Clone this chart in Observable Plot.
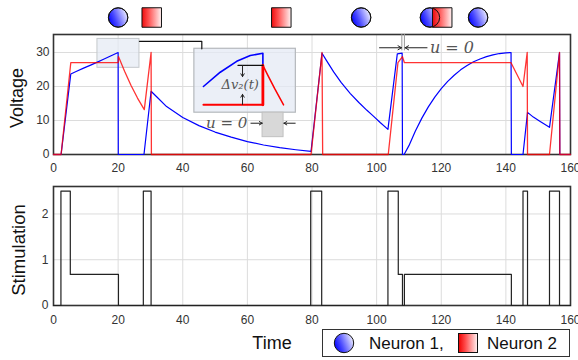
<!DOCTYPE html>
<html><head><meta charset="utf-8">
<script src="https://cdn.jsdelivr.net/npm/d3@7"></script>
<script src="https://cdn.jsdelivr.net/npm/@observablehq/plot@0.6"></script>
<style>
body{margin:0;background:#fff;font-family:"Liberation Sans",Arial,sans-serif;}
#wrap{position:relative;width:578px;height:360px;overflow:hidden;}
#wrap svg{display:block;}
.lab{position:absolute;font-size:18px;color:#111;white-space:nowrap;line-height:1;}
.rot{transform:translate(-50%,-50%) rotate(-90deg);}
.ctr{transform:translate(-50%,-50%);}
#legend{position:absolute;left:322px;top:329px;width:248px;height:28px;box-sizing:border-box;border:1.5px solid #333;background:#fff;}
#legend .it{position:absolute;top:50%;transform:translateY(-50%);font-size:17px;color:#111;white-space:nowrap;line-height:1;}
#legend svg{position:absolute;top:50%;transform:translateY(-50%);}
</style></head><body>
<svg width="0" height="0" style="position:absolute"><defs>
<linearGradient id="gBlue" x1="0" y1="0.7" x2="1" y2="0.3"><stop offset="0" stop-color="#0000ff"/><stop offset="0.35" stop-color="#4a4aff"/><stop offset="1" stop-color="#f2f2ff"/></linearGradient>
<linearGradient id="gRed" x1="0" y1="0" x2="1" y2="0"><stop offset="0" stop-color="#ee0000"/><stop offset="0.35" stop-color="#ff4a4a"/><stop offset="1" stop-color="#fff2f2"/></linearGradient>
</defs></svg>
<div id="wrap">
  <div id="top"></div>
  <div id="bot"></div>
  <div class="lab rot" style="left:17px;top:98px;">Voltage</div>
  <div class="lab rot" style="left:19px;top:250px;font-size:18.5px;">Stimulation</div>
  <div class="lab ctr" style="left:272px;top:343px;">Time</div>
  <div id="legend">
    <svg width="22" height="22" style="left:10px"><circle cx="11" cy="11" r="9.7" fill="url(#gBlue)" stroke="#111" stroke-width="1"/></svg>
    <div class="it" style="left:46px">Neuron 1,</div>
    <svg width="22" height="22" style="left:134px"><rect x="1.5" y="1.5" width="19" height="19" fill="url(#gRed)" stroke="#111" stroke-width="1"/></svg>
    <div class="it" style="left:164px">Neuron 2</div>
  </div>
</div>
<script>
// ---- data ----
const xTicks = [0, 20, 40, 60, 80, 100, 120, 140, 160];
const vTicks = [0, 10, 20, 30];
const sTicks = [0, 1, 2];

// Neuron 1 voltage (time, voltage)
const neuron1 = [
  [0,0],[2.35,0],[5.35,23.7],[7,24.4],[9.3,25.4],[11.5,26.3],[13.4,27.1],[15.5,28.0],[17.5,28.9],[20,30],[20.05,0],
  [28,0],[30.2,18.6],[32,16.9],[35,14.1],[40,10.9],[45,8.5],[50,6.6],[55,5.1],[60,3.8],[65,2.8],[70,2.0],[75,1.4],[79.7,0.9],
  [83.1,29.8],[84.5,27.6],[86.7,24.3],[89,21.2],[91.8,18.0],[94.5,15.3],[97,13.0],[99,11.3],[101.1,9.4],[103.5,7.4],
  [106.4,29.6],[107.9,29.8],[108,0],[108.5,0],[110,2.6],[112,6.9],[114,10.7],[116,14.0],[118,16.9],[120,19.4],[122,21.5],
  [124,23.3],[126,24.9],[128,26.2],[130,27.3],[132,28.1],[134,28.8],[136,29.3],[138,29.7],[140,29.9],[141.6,30],[141.7,0],
  [145.3,0],[146.7,12.4],[148.5,11.0],[150.5,9.8],[153.5,8.0],[156.6,30],[156.7,0],[160,0]
];
// Neuron 2 voltage
const neuron2 = [
  [0,0],[2.35,0],[5.35,27],[20,27],[20.1,28.8],[22,24.5],[24,20.3],[26,16.6],[28.1,13.2],[30.2,30],[30.3,0],
  [79.7,0],[83.1,30],[83.3,0],[103.6,0],[106.6,27],[108,28.8],[108.6,27],[141.6,27],[145.3,20],[146.6,30],[146.7,0],
  [153.5,0],[156.6,30],[156.7,0],[160,0]
];
// Stimulation (time, value), step-after
const stimulation = [
  [0,0],[2.3,2.5],[5.2,0.68],[20.1,0],[27.8,2.5],[30.2,0],[79.6,2.5],[83,0],[103.5,2.5],[106.7,0.68],[108,0],
  [108.6,0.68],[141.7,0],[145.3,2.5],[146.7,0],[153.5,2.5],[156.6,0],[160,0]
];
// event markers above the voltage panel
const circleTimes = [20, 95.2, 116.5, 131.4];
const squareTimes = [30.4, 70.5, 120.3];
const markerLevel = [40.3];

// annotations (time, voltage units)
const highlightBox = [{x1:13.6, x2:26.6, y1:25.5, y2:34.0}];
const insetBox = [{x1:43.6, x2:75.0, y1:12.3, y2:31.1}];
const connector = [[26.6,33.3],[45.9,33.3],[45.9,31.1]];
const insetBlue = [[46.4,20.0],[51.6,24.2],[56.7,27.4],[60.9,29.1],[64.8,29.8],[64.8,26.2]];
const insetRedBase = [[46.4,14.6],[64.8,14.6]];
const insetRedJump = [[64.8,14.6],[64.8,26.2]];
const insetRedDecay = [[64.8,26.2],[66.5,23.0],[68.5,19.3],[71.2,14.6]];
const insetTopLine = [[57.1,26.2],[64.8,26.2]];
const insetArrows = [{x1:58.5,y1:26.2,x2:58.5,y2:22.9},{x1:58.5,y1:14.7,x2:58.5,y2:17.7}];
const insetLabel = [{x:57.8, y:20.4, t:"Δv₂(t)"}];
const uBox = [{x1:64.7, x2:71.2, y1:5.1, y2:12.3}];
const uBoxArrows = [{x1:61.1,y1:9.2,x2:64.6,y2:9.2},{x1:74.8,y1:9.2,x2:71.3,y2:9.2}];
const uBoxLabel = [{x:53.6, y:9.2, t:"u = 0"}];
const uRules = [107.8, 108.6];
const uRuleSpan = {y1:30.5, y2:35.3};
const uArrows = [{x1:100.9,y1:31.4,x2:107.7,y2:31.4},{x1:115.6,y1:31.4,x2:108.8,y2:31.4}];
const uLabel = [{x:123.3, y:31.4, t:"u = 0"}];

const font = "Liberation Sans, Arial, sans-serif";
const serif = "DejaVu Serif, Liberation Serif, serif";

const topPlot = Plot.plot({
  width: 578, height: 170,
  marginLeft: 53, marginRight: 8, marginTop: 34, marginBottom: 16,
  style: {fontFamily: font, fontSize: "12px", color: "#333", background: "transparent", overflow: "visible"},
  x: {domain: [0, 160]},
  y: {domain: [0, 35.3]},
  marks: [
    Plot.gridX(xTicks, {stroke: "#dcdcdc", strokeOpacity: 1}),
    Plot.gridY(vTicks, {stroke: "#dcdcdc", strokeOpacity: 1}),
    Plot.axisX(xTicks, {tickSize: 0, tickPadding: 9, label: null, fontSize: 12}),
    Plot.axisY(vTicks, {tickSize: 0, tickPadding: 4, label: null, fontSize: 12}),
    Plot.rect(highlightBox, {x1: "x1", x2: "x2", y1: "y1", y2: "y2", fill: "#e4eaf4", fillOpacity: 0.7, stroke: "#c4c8cc", strokeWidth: 1}),
    Plot.rect(insetBox, {x1: "x1", x2: "x2", y1: "y1", y2: "y2", fill: "#e4eaf4", fillOpacity: 0.75, stroke: "#b4b8bc", strokeWidth: 1.2}),
    Plot.rect(uBox, {x1: "x1", x2: "x2", y1: "y1", y2: "y2", fill: "#d8d8d8", stroke: "#c0c0c0", strokeWidth: 1}),
    Plot.line(connector, {x: d => d[0], y: d => d[1], stroke: "#111", strokeWidth: 1.2}),
    Plot.frame({stroke: "#333", strokeWidth: 1.6}),
    Plot.line(neuron1, {x: d => d[0], y: d => d[1], stroke: "#0000ff", strokeWidth: 1.2}),
    Plot.line(neuron2, {x: d => d[0], y: d => d[1], stroke: "#ff0000", strokeOpacity: 0.8, strokeWidth: 1.3}),
    // inset schematic
    Plot.line(insetBlue, {x: d => d[0], y: d => d[1], stroke: "#0000ff", strokeWidth: 1.6}),
    Plot.line(insetRedBase, {x: d => d[0], y: d => d[1], stroke: "#ff0000", strokeWidth: 2}),
    Plot.line(insetRedJump, {x: d => d[0], y: d => d[1], stroke: "#ff0000", strokeWidth: 2.8}),
    Plot.line(insetRedDecay, {x: d => d[0], y: d => d[1], stroke: "#ff0000", strokeWidth: 1.5}),
    Plot.line(insetTopLine, {x: d => d[0], y: d => d[1], stroke: "#111", strokeWidth: 1.2}),
    Plot.arrow(insetArrows, {x1: "x1", y1: "y1", x2: "x2", y2: "y2", stroke: "#222", strokeWidth: 1, headLength: 5}),
    Plot.text(insetLabel, {x: "x", y: "y", text: "t", fontFamily: serif, fontStyle: "italic", fontSize: 13, fill: "#555"}),
    Plot.arrow(uBoxArrows, {x1: "x1", y1: "y1", x2: "x2", y2: "y2", stroke: "#222", strokeWidth: 1, headLength: 5}),
    Plot.text(uBoxLabel, {x: "x", y: "y", text: "t", fontFamily: serif, fontStyle: "italic", fontSize: 15, fill: "#555"}),
    // u = 0 at t≈108
    Plot.ruleX(uRules, {y1: uRuleSpan.y1, y2: uRuleSpan.y2, stroke: "#999", strokeWidth: 1}),
    Plot.arrow(uArrows, {x1: "x1", y1: "y1", x2: "x2", y2: "y2", stroke: "#222", strokeWidth: 1, headLength: 6}),
    Plot.text(uLabel, {x: "x", y: "y", text: "t", fontFamily: serif, fontStyle: "italic", fontSize: 16, fill: "#555"}),
    // event markers
    Plot.dot(circleTimes, {x: d => d, y: markerLevel[0], r: 9.7, fill: "url(#gBlue)", stroke: "#111", strokeWidth: 1}),
    Plot.dot(squareTimes, {x: d => d, y: markerLevel[0], r: 11, symbol: "square", fill: "url(#gRed)", fillOpacity: 0.95, stroke: "#111", strokeWidth: 1}),
    Plot.dot(circleTimes, {x: d => d, y: markerLevel[0], r: 9.7, fill: "none", stroke: "#111", strokeWidth: 1})
  ]
});

const botPlot = Plot.plot({
  width: 578, height: 160,
  marginLeft: 53, marginRight: 8, marginTop: 16, marginBottom: 25,
  style: {fontFamily: font, fontSize: "12px", color: "#333", background: "transparent", overflow: "visible"},
  x: {domain: [0, 160]},
  y: {domain: [0, 2.6]},
  marks: [
    Plot.gridX(xTicks, {stroke: "#dcdcdc", strokeOpacity: 1}),
    Plot.gridY(sTicks, {stroke: "#dcdcdc", strokeOpacity: 1}),
    Plot.axisX(xTicks, {tickSize: 0, tickPadding: 10, label: null, fontSize: 12}),
    Plot.axisY(sTicks, {tickSize: 0, tickPadding: 5, label: null, fontSize: 12}),
    Plot.frame({stroke: "#333", strokeWidth: 1.6}),
    Plot.line(stimulation, {x: d => d[0], y: d => d[1], curve: "step-after", stroke: "#222", strokeWidth: 1.2})
  ]
});

document.getElementById("top").appendChild(topPlot);
document.getElementById("bot").appendChild(botPlot);
</script>
</body></html>
